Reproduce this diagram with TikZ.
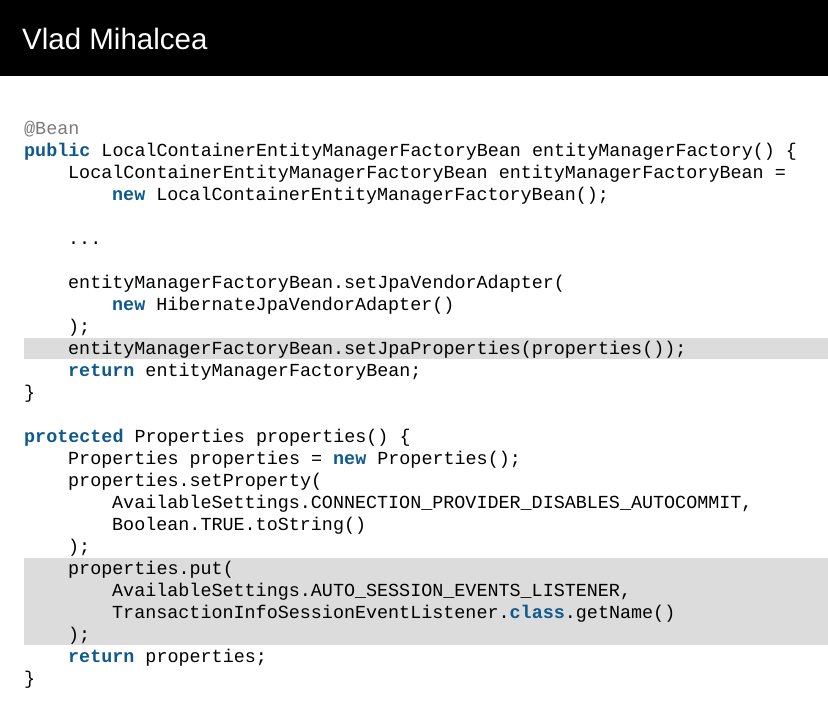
\documentclass[tikz,border=0pt]{standalone}
\usepackage{fontspec}
\setmainfont{Liberation Sans}
\newfontfamily\codefont{Liberation Mono}
\definecolor{kwblue}{HTML}{0E5A8E}
\definecolor{annogray}{HTML}{7A7A7A}
\definecolor{hlgray}{HTML}{DCDCDC}
\newcommand*{\kw}[1]{\textcolor{kwblue}{\textbf{#1}}}
\tikzset{
	codeline/.style={anchor=base west,inner sep=0pt,font=\codefont\fontsize{18.4}{22}\selectfont},
}
\begin{document}
\begin{tikzpicture}[x=1pt,y=-1pt]
	\useasboundingbox (0,0) rectangle (828,712);
	\fill [black] (0,0) rectangle (828,76);
	\node[anchor=base west,inner sep=0pt,text=white,font=\fontsize{29.5}{34}\selectfont] (title) at (22,49) {Vlad Mihalcea};

	% highlighted lines
	\fill [hlgray] (24,338) rectangle (828,359);
	\fill [hlgray] (24,558) rectangle (828,645);

	\node[codeline] (l1) at (24,134) {\textcolor{annogray}{@Bean}};
	\node[codeline] (l2) at (24,156) {\kw{public} LocalContainerEntityManagerFactoryBean entityManagerFactory() \{};
	\node[codeline] (l3) at (68,178) {LocalContainerEntityManagerFactoryBean entityManagerFactoryBean =};
	\node[codeline] (l4) at (112,200) {\kw{new} LocalContainerEntityManagerFactoryBean();};
	\node[codeline] (l5) at (68,244) {...};
	\node[codeline] (l6) at (68,288) {entityManagerFactoryBean.setJpaVendorAdapter(};
	\node[codeline] (l7) at (112,310) {\kw{new} HibernateJpaVendorAdapter()};
	\node[codeline] (l8) at (68,332) {);};
	\node[codeline] (l9) at (68,354) {entityManagerFactoryBean.setJpaProperties(properties());};
	\node[codeline] (l10) at (68,376) {\kw{return} entityManagerFactoryBean;};
	\node[codeline] (l11) at (24,398) {\}};
	\node[codeline] (l12) at (24,442) {\kw{protected} Properties properties() \{};
	\node[codeline] (l13) at (68,464) {Properties properties = \kw{new} Properties();};
	\node[codeline] (l14) at (68,486) {properties.setProperty(};
	\node[codeline] (l15) at (112,508) {AvailableSettings.CONNECTION\_PROVIDER\_DISABLES\_AUTOCOMMIT,};
	\node[codeline] (l16) at (112,530) {Boolean.TRUE.toString()};
	\node[codeline] (l17) at (68,552) {);};
	\node[codeline] (l18) at (68,574) {properties.put(};
	\node[codeline] (l19) at (112,596) {AvailableSettings.AUTO\_SESSION\_EVENTS\_LISTENER,};
	\node[codeline] (l20) at (112,618) {TransactionInfoSessionEventListener.\kw{class}.getName()};
	\node[codeline] (l21) at (68,640) {);};
	\node[codeline] (l22) at (68,662) {\kw{return} properties;};
	\node[codeline] (l23) at (24,684) {\}};
\end{tikzpicture}
\end{document}
